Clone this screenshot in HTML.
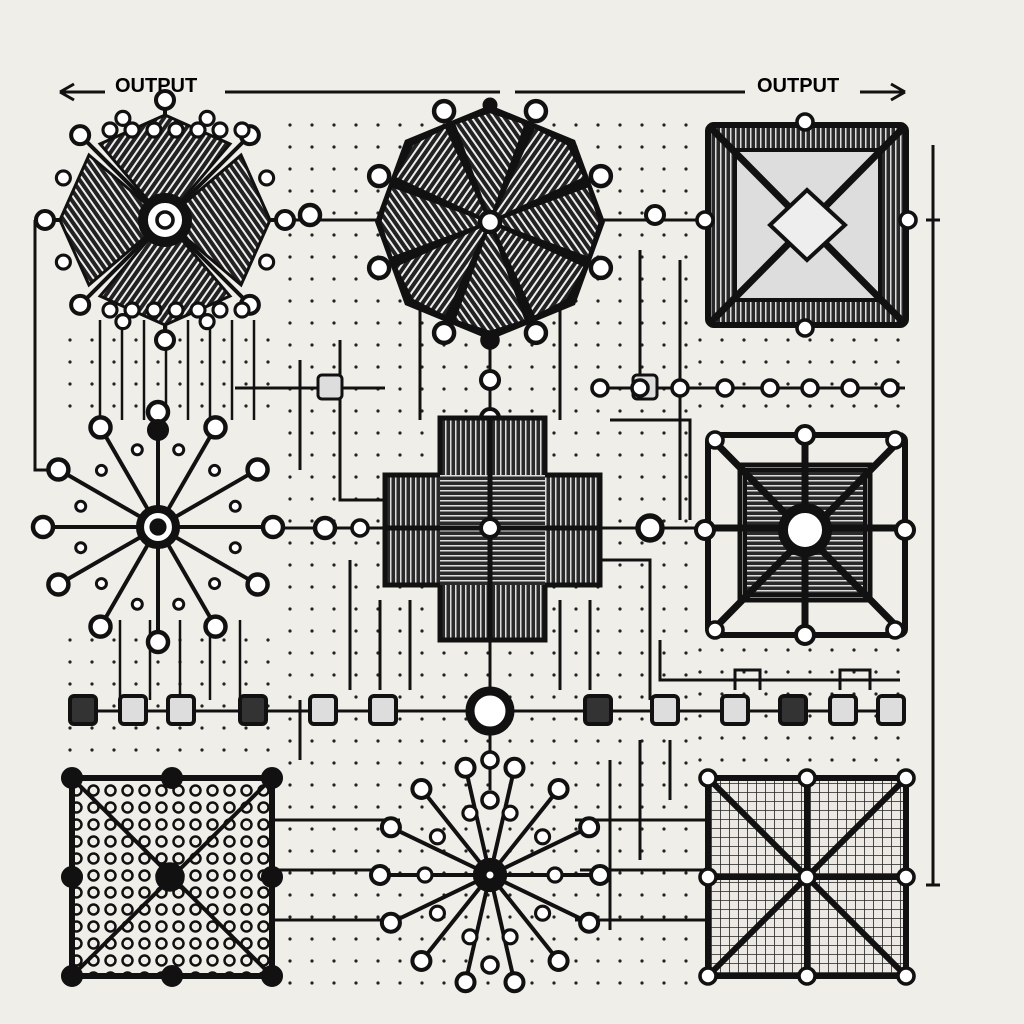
<!DOCTYPE html>
<html><head><meta charset="utf-8"><style>
html,body{margin:0;padding:0;background:#efeee9;}
svg{display:block}
text{font-family:"Liberation Sans",sans-serif;font-weight:bold}
</style></head><body>
<svg id="s" width="1024" height="1024" viewBox="0 0 1024 1024" xmlns="http://www.w3.org/2000/svg">
<defs>
<pattern id="h1" width="6" height="6" patternUnits="userSpaceOnUse" patternTransform="rotate(35)"><rect width="6" height="6" fill="#222"/><rect width="2" height="6" fill="#eee"/></pattern>
<pattern id="h2" width="6" height="6" patternUnits="userSpaceOnUse" patternTransform="rotate(-35)"><rect width="6" height="6" fill="#222"/><rect width="2" height="6" fill="#eee"/></pattern>
<pattern id="hv" width="5" height="5" patternUnits="userSpaceOnUse"><rect width="5" height="5" fill="#2a2a2a"/><rect width="1.5" height="5" fill="#ddd"/></pattern>
<pattern id="hh" width="5" height="5" patternUnits="userSpaceOnUse"><rect width="5" height="5" fill="#2a2a2a"/><rect width="5" height="1.5" fill="#ddd"/></pattern>
<pattern id="grid" width="17" height="17" patternUnits="userSpaceOnUse"><rect width="17" height="17" fill="#efeee9"/><circle cx="8.5" cy="8.5" r="5" fill="none" stroke="#111" stroke-width="2.5"/></pattern>
<pattern id="grid2" width="9" height="9" patternUnits="userSpaceOnUse"><rect width="9" height="9" fill="#ece8e4"/><path d="M0 0H9M0 0V9" stroke="#222" stroke-width="1.6"/></pattern>
</defs>
<g id="dots" fill="#222"></g>
<g id="wires" fill="none" stroke="#111" stroke-width="3"></g>
<g id="main"></g>
</svg>
<script>
const NS="http://www.w3.org/2000/svg";
function el(p,t,a){const e=document.createElementNS(NS,t);for(const k in a)e.setAttribute(k,a[k]);p.appendChild(e);return e;}
const S=document.getElementById('s'),D=document.getElementById('dots'),W=document.getElementById('wires'),M=document.getElementById('main');
// dots
for(let x=290;x<700;x+=22)for(let y=125;y<1000;y+=22){el(D,'circle',{cx:x,cy:y,r:1.6});}
for(let x=70;x<290;x+=22)for(let y=340;y<420;y+=22){el(D,'circle',{cx:x,cy:y,r:1.6});}
for(let x=70;x<290;x+=22)for(let y=640;y<760;y+=22){el(D,'circle',{cx:x,cy:y,r:1.6});}
for(let x=700;x<920;x+=22)for(let y=340;y<420;y+=22){el(D,'circle',{cx:x,cy:y,r:1.6});}
for(let x=700;x<920;x+=22)for(let y=650;y<770;y+=22){el(D,'circle',{cx:x,cy:y,r:1.6});}
// wires
const L=(d,w)=>el(W,'path',{d:d,'stroke-width':w||3});
L("M225 92H500");L("M515 92H745");L("M62 92H105");L("M860 92H905");
L("M933 145V885");L("M926 220H940M926 885H940");
L("M35 220V470H70");L("M35 220H60");
L("M275 220H385");L("M600 220H705");
L("M490 340V418");L("M70 711H905");L("M490 640V690");L("M490 730V790");
L("M600 388H905");L("M235 388H385");L("M600 528H705");L("M275 528H385");
L("M340 340V500H385M300 360V470");
L("M640 250V400M680 260V520");L("M610 420H690V520");
L("M600 560H650V700");L("M660 640V680H900");
L("M350 560V690M380 600V690M410 600V690");
L("M560 600V690M590 600V690");
L("M275 820H400M275 870H390M275 920H400M300 760V700");
L("M575 820H705M580 870H705M575 920H705M610 760V930");
L("M640 740V860M670 740V800");
L("M560 260V420M420 300V420");
for(let i=0;i<8;i++){L(`M${100+i*22} 320V420`,2.5);}
for(let i=0;i<5;i++){L(`M${120+i*30} 620V700`,2.5);}
L("M735 690V670H760V690M840 690V670H870V690");
// text
const t1=el(M,'text',{x:115,y:92,'font-size':20});t1.textContent="OUTPUT";
const t2=el(M,'text',{x:757,y:92,'font-size':20});t2.textContent="OUTPUT";
el(M,'path',{d:"M60 92L74 84M60 92L74 100M905 92L891 84M905 92L891 100",stroke:"#111","stroke-width":3,fill:"none"});
function node(x,y,r,fill){el(M,'circle',{cx:x,cy:y,r:r,fill:fill||'#fff',stroke:'#111','stroke-width':Math.max(3,r*0.45)});}
function flower(cx,cy,R,n,hatch){
  for(let i=0;i<n;i++){const a=i*2*Math.PI/n,b=a+Math.PI/n*0.9,c=a-Math.PI/n*0.9;
    const p=`M${cx} ${cy}L${cx+R*Math.cos(c)} ${cy+R*Math.sin(c)}L${cx+R*1.05*Math.cos(a)} ${cy+R*1.05*Math.sin(a)}L${cx+R*Math.cos(b)} ${cy+R*Math.sin(b)}Z`;
    el(M,'path',{d:p,fill:i%2?'url(#h1)':'url(#h2)',stroke:'#111','stroke-width':3});}
}
function spokes(cx,cy,R,n,r,off){for(let i=0;i<n;i++){const a=i*2*Math.PI/n+(off||0);const x=cx+R*Math.cos(a),y=cy+R*Math.sin(a);
  el(M,'line',{x1:cx,y1:cy,x2:x,y2:y,stroke:'#111','stroke-width':4});node(x,y,r);}}
// top-left flower
spokes(165,220,120,8,9);
flower(165,220,100,4);
el(M,'rect',{x:75,y:130,width:180,height:180,fill:'none'});
for(let i=0;i<8;i++){const a=i*Math.PI/4+Math.PI/8;node(165+110*Math.cos(a),220+110*Math.sin(a),7);}
for(let i=0;i<7;i++){node(110+i*22,310,7,'#fff');node(110+i*22,130,7);}
node(165,220,22,'#fff');node(165,220,8,'#fff');
// top-center
spokes(490,222,120,8,10,Math.PI/8);
el(M,'polygon',{points:"490,105 575,140 605,222 575,305 490,340 405,305 375,222 405,140",fill:'#111'});
flower(490,222,105,8);
node(490,222,10);node(490,340,8,'#111');node(490,105,6,'#111');
node(490,380,9);node(490,418,9);node(310,215,10);node(655,215,9);
// top-right square
el(M,'rect',{x:708,y:125,width:198,height:200,fill:'url(#hv)',stroke:'#111','stroke-width':6,rx:6});
el(M,'rect',{x:735,y:150,width:145,height:150,fill:'#ddd',stroke:'#111','stroke-width':4});
el(M,'path',{d:"M708 125L906 325M906 125L708 325",stroke:'#111','stroke-width':7});
el(M,'path',{d:"M807 190L845 225L807 260L770 225Z",fill:'#eee',stroke:'#111','stroke-width':4});
node(805,122,8);node(805,328,8);node(705,220,8);node(908,220,8);
// middle-left starburst
spokes(158,527,115,12,10);
for(let i=0;i<12;i++){const a=i*Math.PI/6+Math.PI/12;node(158+80*Math.cos(a),527+80*Math.sin(a),5);}
node(158,527,18,'#fff');node(158,527,7,'#111');node(158,430,9,'#111');
// center cross
el(M,'path',{d:"M440 418H545V475H600V585H545V640H440V585H385V475H440Z",fill:'url(#hv)',stroke:'#111','stroke-width':5});
el(M,'path',{d:"M440 475H545V585H440Z",fill:'url(#hh)',stroke:'none'});
el(M,'path',{d:"M385 528H600M490 418V640",stroke:'#111','stroke-width':5});
node(490,528,9);node(325,528,10);node(360,528,8);node(650,528,12);
// middle-right square
el(M,'rect',{x:708,y:435,width:197,height:200,fill:'#efeee9',stroke:'#111','stroke-width':6,rx:6});
el(M,'rect',{x:745,y:470,width:120,height:125,fill:'url(#hh)',stroke:'#111','stroke-width':4});
el(M,'path',{d:"M708 435L905 635M905 435L708 635M708 528H905M805 435V635",stroke:'#111','stroke-width':7});
el(M,'rect',{x:740,y:465,width:130,height:135,fill:'none',stroke:'#111','stroke-width':5});
node(805,530,22,'#fff');node(805,435,9);node(805,635,9);node(705,530,9);node(905,530,9);node(715,630,8);node(895,630,8);node(715,440,8);node(895,440,8);
// row at y 711
[70,120,168,240,310,370,585,652,722,780,830,878].forEach((x,i)=>{el(M,'rect',{x:x,y:696,width:26,height:28,rx:4,fill:i%3==0?'#333':'#ddd',stroke:'#111','stroke-width':4});});
node(490,711,20,'#fff');
// small labels
[[318,375],[633,375]].forEach(([x,y])=>el(M,'rect',{x:x,y:y,width:24,height:24,rx:4,fill:'#ddd',stroke:'#111','stroke-width':3}));
[600,640,680,725,770,810,850,890].forEach(x=>node(x,388,8));
// bottom-left grid
el(M,'rect',{x:72,y:778,width:200,height:198,fill:'url(#grid)',stroke:'#111','stroke-width':6});
el(M,'path',{d:"M72 778L272 976M272 778L72 976",stroke:'#111','stroke-width':4});
node(170,877,12,'#111');
[[72,778],[272,778],[72,976],[272,976],[172,778],[172,976],[72,877],[272,877]].forEach(p=>node(p[0],p[1],9,'#111'));
// bottom-center starburst
spokes(490,875,110,14,9);
for(let i=0;i<10;i++){const a=i*Math.PI/5;node(490+65*Math.cos(a),875+65*Math.sin(a),7);}
node(490,875,14,'#111');node(490,875,5,'#fff');
node(490,760,8);node(490,800,8);node(490,965,8);
// bottom-right grid
el(M,'rect',{x:708,y:778,width:198,height:198,fill:'url(#grid2)',stroke:'#111','stroke-width':6});
el(M,'path',{d:"M708 778L906 976M906 778L708 976M708 877H906M807 778V976",stroke:'#111','stroke-width':6});
[[708,778],[906,778],[708,976],[906,976],[807,778],[807,976],[708,877],[906,877],[807,877]].forEach(p=>node(p[0],p[1],8,'#fff'));
</script>
</body></html>
